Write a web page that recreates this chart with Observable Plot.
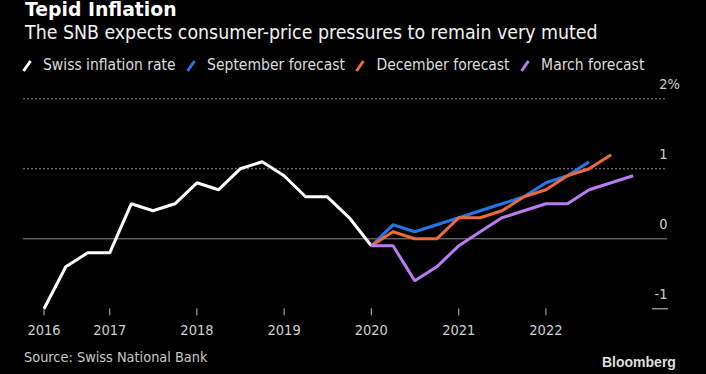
<!DOCTYPE html>
<html>
<head>
<meta charset="utf-8">
<script src="https://cdn.jsdelivr.net/npm/d3@7"></script>
<script src="https://cdn.jsdelivr.net/npm/@observablehq/plot@0.6"></script>
<style>
  html, body { margin: 0; padding: 0; background: #000; }
  body { width: 706px; height: 374px; position: relative; overflow: hidden;
         font-family: "DejaVu Sans Condensed", "DejaVu Sans", sans-serif; font-stretch: condensed; }
  .abs { position: absolute; white-space: nowrap; line-height: 1; }
  #title { left: 25px; top: 0.8px; font-family: "DejaVu Sans", sans-serif; font-stretch: normal; font-weight: bold; font-size: 18.8px; color: #fff; }
  #subtitle { left: 25px; top: 23px; font-size: 19.35px; color: #f2f2f2; }
  #legend { left: 21px; top: 57.8px; font-size: 15.5px; color: #dcdcdc; display: flex; align-items: center; }
  .item { display: inline-flex; align-items: center; margin-right: 9.5px; }
  .item svg { margin-right: 10px; }
  #chart { position: absolute; left: 0; top: 76px; }
  #source { left: 24px; top: 349.5px; font-size: 14.4px; color: #c8c8c8; }
  #brand { left: 602px; top: 355.4px; font-family: "Liberation Sans", Arial, sans-serif; font-stretch: normal; font-weight: bold; font-size: 14px; color: #dedede; }
</style>
</head>
<body>
<div id="title" class="abs">Tepid Inflation</div>
<div id="subtitle" class="abs">The SNB expects consumer-price pressures to remain very muted</div>
<div id="legend" class="abs"></div>
<div id="chart"></div>
<div id="source" class="abs">Source: Swiss National Bank</div>
<div id="brand" class="abs">Bloomberg</div>
<script>
// ---- data ----
const seriesNames = ["Swiss inflation rate", "September forecast", "December forecast", "March forecast"];
const seriesColors = ["#ffffff", "#2277e8", "#ee6a3c", "#b97cf2"];

const inflationDates = ["2016-04-01","2016-07-01","2016-10-01","2017-01-01","2017-04-01","2017-07-01","2017-10-01","2018-01-01",
                        "2018-04-01","2018-07-01","2018-10-01","2019-01-01","2019-04-01","2019-07-01","2019-10-01","2020-01-01"];
const inflation = [-1.0, -0.4, -0.2, -0.2, 0.5, 0.4, 0.5, 0.8, 0.7, 1.0, 1.1, 0.9, 0.6, 0.6, 0.3, -0.1];

const forecastDates = ["2020-01-01","2020-04-01","2020-07-01","2020-10-01","2021-01-01","2021-04-01","2021-07-01",
                       "2021-10-01","2022-01-01","2022-04-01","2022-07-01","2022-10-01","2023-01-01"];
const septemberForecast = [-0.1, 0.2, 0.1, 0.2, 0.3, 0.4, 0.5, 0.6, 0.8, 0.9, 1.1];
const decemberForecast  = [-0.1, 0.1, 0.0, 0.0, 0.3, 0.3, 0.4, 0.6, 0.7, 0.9, 1.0, 1.2];
const marchForecast     = [-0.1, -0.1, -0.6, -0.4, -0.1, 0.1, 0.3, 0.4, 0.5, 0.5, 0.7, 0.8, 0.9];

const xTickDates = ["2016-04-01","2017-01-01","2018-01-01","2019-01-01","2020-01-01","2021-01-01","2022-01-01"];
const xTickLabels = ["2016","2017","2018","2019","2020","2021","2022"];
const yTicks = [-1, 0, 1, 2];
const yTickLabels = ["-1", "0", "1", "2"];
const xDomain = ["2016-01-06", "2023-05-25"];
const yDomain = [-1, 2];

// ---- build tables ----
const parse = d3.utcParse("%Y-%m-%d");
const rows = [];
inflation.forEach((v, i) => rows.push({series: seriesNames[0], date: parse(inflationDates[i]), value: v}));
[septemberForecast, decemberForecast, marchForecast].forEach((arr, k) => {
  arr.forEach((v, i) => rows.push({series: seriesNames[k + 1], date: parse(forecastDates[i]), value: v}));
});
const xTicks = xTickDates.map(parse);
const labelOf = new Map(xTicks.map((d, i) => [+d, xTickLabels[i]]));

// ---- legend ----
const legend = document.getElementById("legend");
seriesNames.forEach((name, i) => {
  const item = document.createElement("span");
  item.className = "item";
  item.innerHTML = `<svg width="12" height="12"><line x1="2.5" y1="11" x2="9.5" y2="1" stroke="${seriesColors[i]}" stroke-width="3"/></svg><span>${name}</span>`;
  legend.appendChild(item);
});

// ---- chart ----
const grid = "#8c8c8c";
const chart = Plot.plot({
  width: 706,
  height: 264,
  marginTop: 22.3,
  marginBottom: 31.7,
  marginLeft: 23,
  marginRight: 39,
  style: {background: "#000", color: "#cfcfcf", fontFamily: "'DejaVu Sans Condensed', 'DejaVu Sans', sans-serif", fontSize: "14.5px", fontStretch: "condensed"},
  x: {type: "utc", domain: xDomain.map(parse)},
  y: {domain: yDomain},
  color: {domain: seriesNames, range: seriesColors},
  marks: [
    Plot.ruleY(yTicks.filter(d => d > 0), {stroke: grid, strokeDasharray: "2,2", strokeWidth: 1}),
    Plot.ruleY(yTicks.filter(d => d === 0), {stroke: grid, strokeWidth: 1}),
    Plot.axisY(yTicks.filter(d => d === -1), {anchor: "right", tickSize: 16, dx: -16, stroke: "#cfcfcf", tickFormat: () => "", label: null}),
    Plot.text(yTicks, {y: d => d, text: (d, i) => yTickLabels[i], frameAnchor: "right", textAnchor: "end", lineAnchor: "bottom", dy: -10, fill: "#cfcfcf"}),
    Plot.text(yTicks.filter(d => d === 2), {y: d => d, text: () => "%", frameAnchor: "right", textAnchor: "start", lineAnchor: "bottom", dy: -10, fill: "#cfcfcf"}),
    Plot.axisX(xTicks, {anchor: "bottom", tickSize: 7, tickPadding: 8.5, stroke: "#bdbdbd", fill: "#cfcfcf", tickFormat: d => labelOf.get(+d), label: null}),
    Plot.line(rows, {x: "date", y: "value", z: "series", stroke: "series", strokeWidth: 3, strokeLinejoin: "miter", strokeLinecap: "butt"})
  ]
});
document.getElementById("chart").appendChild(chart);
</script>
</body>
</html>
